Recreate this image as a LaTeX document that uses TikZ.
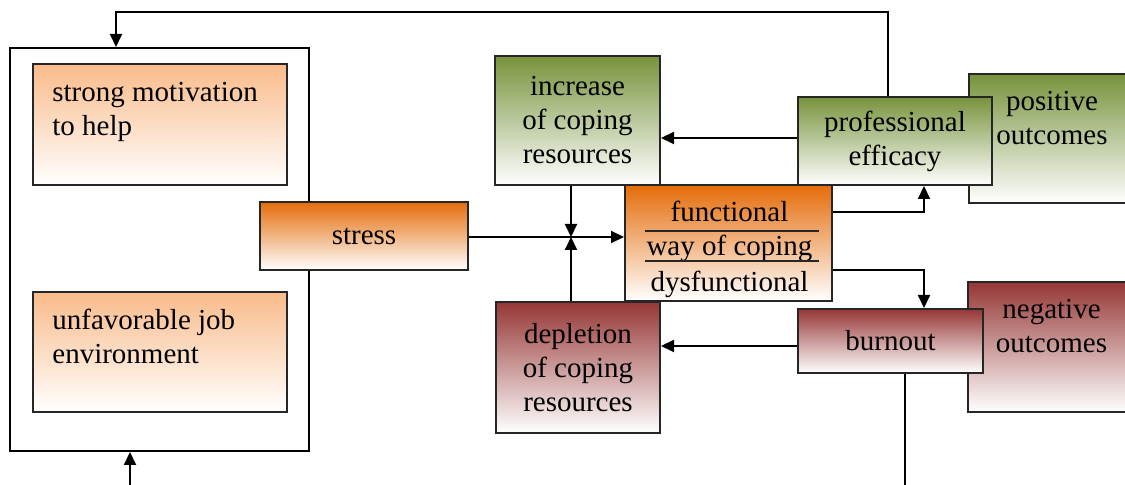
\documentclass[tikz,border=0pt]{standalone}
\usepackage{fontspec}
\setmainfont{Liberation Serif}
\usepackage{xcolor}
\definecolor{cGreen}{HTML}{77933C}
\definecolor{cRed}{HTML}{953735}
\definecolor{cOrange}{HTML}{E46C0A}
\definecolor{cPeach}{HTML}{F9BB8A}
\definecolor{cLine}{HTML}{262626}
\usetikzlibrary{positioning,arrows.meta,calc}
\tikzset{
  node-base/.style={draw=cLine,line width=1pt,inner sep=0pt,align=center,
    font=\fontsize{14.5}{17}\selectfont},
  node-size/.style 2 args={minimum width=#1*0.5pt,minimum height=#2*0.5pt},
  node-frame/.style={node-base,draw=black},
  node-peach/.style={node-base,top color=cPeach,bottom color=white},
  node-orange/.style={node-base,top color=cOrange,bottom color=white},
  node-green/.style={node-base,top color=cGreen,bottom color=white},
  node-red/.style={node-base,top color=cRed,bottom color=white},
  node-text/.style={inner sep=0pt,font=\fontsize{14.5}{17}\selectfont},
  arrow/.style={-{Triangle[length=6.5pt,width=6pt]},line width=1pt,draw=black},
  line-plain/.style={line width=1pt,draw=black},
  line-sep/.style={line width=0.8pt,draw=cLine},
}

\begin{document}
\begin{tikzpicture}[x=0.5pt,y=-0.5pt]
  \useasboundingbox (0,0) rectangle (1125,485);
  \clip (0,0) rectangle (1125,485);
  % left block
  \node[node-frame,node-size={299}{403}] (frame) at (159.5,249.5) {};
  \node[node-peach,node-size={254}{121}] (motiv) at (160,124.5) {};
  \node[node-text,align=left,below right=9.5pt and 10pt of motiv.north west] (motivtext) {strong motivation\\to help};
  \node[node-peach,node-size={254}{120}] (environ) at (160,352) {};
  \node[node-text,align=left,below right=9pt and 10pt of environ.north west] (environtext) {unfavorable job\\environment};
  \node[node-orange,node-size={208}{68}] (stress) at (364,236) {stress};
  % resources
  \node[node-green,node-size={165}{129}] (increase) at (577.5,120.5) {increase\\of coping\\resources};
  \node[node-red,node-size={164}{131}] (depletion) at (578,367.5) {depletion\\of coping\\resources};
  % way of coping
  \node[node-orange,node-size={207}{116}] (coping) at (728.5,243) {};
  \node[node-text,anchor=base] (functext) at ($(coping)+(1,-21)$) {functional};
  \node[node-text,anchor=base] (waytext) at ($(coping)+(1,13)$) {way of coping};
  \node[node-text,anchor=base] (dysftext) at ($(coping)+(1,49)$) {dysfunctional};
  \draw[line-sep] ($(coping)+(-84,-12)$) -- ($(coping)+(90,-12)$);
  \draw[line-sep] ($(coping)+(-84,18)$) -- ($(coping)+(90,18)$);
  % outcomes
  \node[node-green,node-size={166}{129}] (posout) at (1052,138.5) {};
  \node[node-text,align=center,below=9pt of posout.north] (postext) {positive\\outcomes};
  \node[node-green,node-size={194}{88}] (profeff) at (895,141) {professional\\efficacy};
  \node[node-red,node-size={167}{130}] (negout) at (1051.5,347) {};
  \node[node-text,align=center,below=9pt of negout.north] (negtext) {negative\\outcomes};
  \node[node-red,node-size={185}{64}] (burnout) at (890.5,341) {burnout};
  % connectors
  \coordinate (looptop) at (116,12);
  \coordinate (loopin) at (130,485);
  \coordinate (loopout) at (905,485);
  \coordinate (junc) at (571,237);
  \coordinate (bw) at ($(burnout.west)+(0,5)$);
  \coordinate (pw) at ($(profeff.west)+(0,-3)$);
  \draw[arrow] ($(profeff.north)+(-7,0)$) |- (looptop) -- (looptop |- frame.north);
  \draw[arrow] (loopin) -- (loopin |- frame.south);
  \draw[line-plain] (loopout |- burnout.south) -- (loopout);
  \draw[arrow] (stress.east |- junc) -- (junc -| coping.west);
  \draw[arrow] (increase.south -| junc) -- (junc);
  \draw[arrow] (depletion.north -| junc) -- (junc);
  \draw[arrow] (pw) -- (pw -| increase.east);
  \draw[arrow] ($(coping.east)+(0,-31)$) -| ($(profeff.south)+(29,0)$);
  \draw[arrow] ($(coping.east)+(0,27)$) -| ($(burnout.north)+(33.5,0)$);
  \draw[arrow] (bw) -- (bw -| depletion.east);
\end{tikzpicture}
\end{document}
